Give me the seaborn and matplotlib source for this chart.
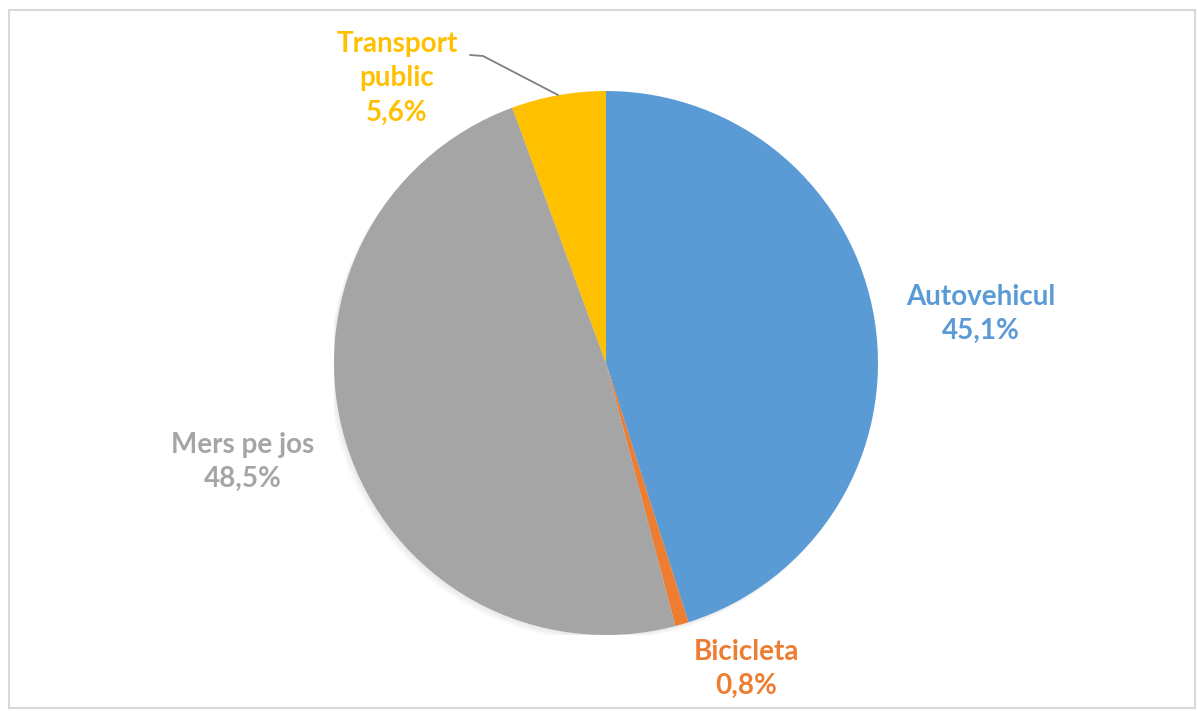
import matplotlib
matplotlib.use("Agg")
import matplotlib.pyplot as plt
from matplotlib.patches import Rectangle, Circle
import seaborn as sns

categories = ["Autovehicul", "Bicicleta", "Mers pe jos", "Transport public"]
values = [45.1, 0.8, 48.5, 5.6]
value_labels = ["45,1%", "0,8%", "48,5%", "5,6%"]
label_texts = ["Autovehicul", "Bicicleta", "Mers pe jos", "Transport\npublic"]
colors = ["#5B9BD5", "#ED7D31", "#A5A5A5", "#FFC000"]

sns.set_theme(style="white")
plt.rcParams["font.family"] = ["Lato", "DejaVu Sans"]

W, H = 1197, 711
fig = plt.figure(figsize=(W / 100, H / 100), dpi=100)
fig.patch.set_facecolor("white")

cx, cy, r = 606, 363, 272
ax = fig.add_axes([(cx - r) / W, (H - cy - r) / H, 2 * r / W, 2 * r / H])

# soft shadow behind the pie
for k, a in enumerate([0.05, 0.05, 0.05]):
    off = (k + 1) * 1.5 / r
    ax.add_patch(Circle((-off, -off * 1.2), 1.0, facecolor="#808080", alpha=a,
                        edgecolor="none", zorder=0))

wedges, _ = ax.pie(values, colors=colors, startangle=90, counterclock=False,
                   radius=1, wedgeprops=dict(linewidth=0, zorder=2))
ax.set_xlim(-1, 1)
ax.set_ylim(-1, 1)
ax.axis("off")

def d(px, py):
    return (px - cx) / r, (cy - py) / r

label_pos = [(981, 314), (746, 669), (243, 462), (397, 78)]
for txt, val, col, (px, py) in zip(label_texts, value_labels, colors, label_pos):
    x, y = d(px, py)
    ax.text(x, y, f"{txt}\n{val}", color=col, fontsize=20, fontweight="bold",
            ha="center", va="center", multialignment="center", linespacing=1.4,
            clip_on=False)

# leader line for Transport public
x0, y0 = d(470, 55)
x1, y1 = d(483, 56)
x2, y2 = d(558, 95)
ax.plot([x0, x1, x2], [y0, y1, y2], color="#7F7F7F", lw=1.3, clip_on=False)

fig.patches.append(Rectangle((9 / W, 3 / H), 1186 / W, 698 / H, transform=fig.transFigure,
                             fill=False, edgecolor="#D9D9D9", lw=1.5))

fig.savefig("out.png", dpi=100, facecolor="white")
